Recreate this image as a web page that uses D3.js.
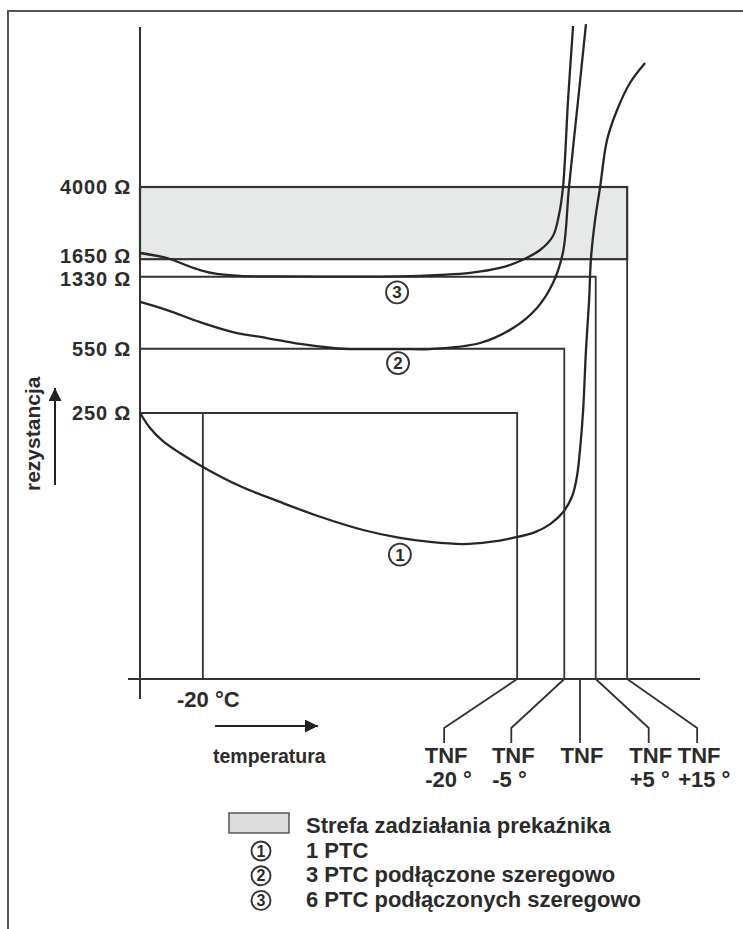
<!DOCTYPE html>
<meta charset="utf-8">
<head>
<style>
  body { margin: 0; background: #fff; }
  text { font-family: "Liberation Sans", Arial, sans-serif; font-weight: bold; fill: #2b2b2b; }
</style>
</head>
<body>
<script src="https://d3js.org/d3.v7.min.js"></script>
<div id="chart"></div>
<script>
    // values: [temperature in °C, resistance in Ω], TNF taken as 100 °C
    var tnf = 100;
    var curve1 = [[-40,250],[-36.8,208],[-32.7,177],[-27.3,153],[-20,129],[-8.2,102],[4.5,84],[17.3,70],
                  [31,59.5],[42.7,54],[52.3,51.4],[62.8,50.1],[71.4,51.4],[78.7,54],[85.7,58],[90.5,64],
                  [94.6,74],[97.5,90],[99,114],[100,159],[101,259],[101.9,541],[102.9,1000],[103.5,1674],
                  [104.8,2669],[106.4,4000],[108.6,7120],[111.8,10290],[115.9,14330],[120.7,18310]];
    var curve2 = [[-40,976],[-31.4,884],[-20.9,763],[-10.4,675],[0.4,627],[10.9,583],[21.4,555],[26.8,548],
                  [42.7,548],[52.3,548],[68.2,590],[78.7,709],[86.3,907],[91.4,1232],[94.6,1802],
                  [96.5,4000],[99.4,11630],[101.9,29540]];
    var curve3 = [[-40,1780],[-31.4,1674],[-26.3,1555],[-20.9,1444],[-15.5,1376],[-8.2,1343],[4.5,1335],
                  [42.7,1335],[55.5,1359],[65,1393],[74.5,1481],[80.9,1614],[87.3,1847],[91.4,2193],
                  [93.3,2837],[94.6,4000],[96.2,11630],[97.8,28830]];
    var curveNames = ["1", "2", "3"];
    var curveMarks = [[42.7,44],[42.1,461],[41.8,1098]];   // where the circled numbers sit

    var ohmTicks = ["250", "550", "1330", "1650", "4000"];
    var zone = [1650, 4000];                 // Strefa zadziałania
    var guideOhms = [250, 550, 1330];
    var guideTemps = [tnf - 20, tnf - 5, tnf + 5];
    var minusTwenty = -20;
    var tnfOffsets = [-20, -5, 0, 5, 15];
    var tnfLabels = ["-20 °", "-5 °", "", "+5 °", "+15 °"];
    var legendLabels = ["Strefa zadziałania prekaźnika", "1 PTC", "3 PTC podłączone szeregowo", "6 PTC podłączonych szeregowo"];

    var width = 743, height = 929;
    var axisY = 679;

    var svg = d3.select("#chart")
      .append("svg")
        .attr("width", width)
        .attr("height", height);

    var x = d3.scaleLinear()
        .domain([-40, tnf])
        .range([140, 580]);

    // resistance axis is logarithmic in the original
    var y = d3.scaleLog()
        .domain([250, 4000])
        .range([413, 187]);

    var ink = "#333";

    // outer frame (left + top only)
    svg.append("path")
      .attr("d", "M8,929V11H743")
      .attr("fill", "none")
      .attr("stroke", "#555")
      .attr("stroke-width", 2);

    // arrow head marker
    svg.append("defs").append("marker")
        .attr("id", "arrow")
        .attr("viewBox", "0 0 10 10")
        .attr("refX", 10).attr("refY", 5)
        .attr("markerWidth", 16).attr("markerHeight", 13)
        .attr("markerUnits", "userSpaceOnUse")
        .attr("orient", "auto")
      .append("path")
        .attr("d", "M0,0L10,5L0,10Z")
        .attr("fill", "#222");

    // shaded zone
    svg.append("rect")
      .attr("x", x(-40))
      .attr("y", y(zone[1]))
      .attr("width", x(tnf + 15) - x(-40))
      .attr("height", y(zone[0]) - y(zone[1]))
      .attr("fill", "#e7e9e9")
      .attr("stroke", ink)
      .attr("stroke-width", 2.2);

    // zone right edge down to the temperature axis
    svg.append("line")
      .attr("x1", x(tnf + 15)).attr("x2", x(tnf + 15))
      .attr("y1", y(zone[0])).attr("y2", axisY)
      .attr("stroke", ink).attr("stroke-width", 1.8);

    // guide lines: resistance level -> temperature
    var guides = svg.append("g")
    guideOhms.forEach(function(r, i) {
      guides.append("path")
        .attr("d", "M" + x(-40) + "," + y(r) + "H" + x(guideTemps[i]) + "V" + axisY)
        .attr("fill", "none")
        .attr("stroke", ink)
        .attr("stroke-width", 1.8);
    });
    guides.append("line")
      .attr("x1", x(minusTwenty)).attr("x2", x(minusTwenty))
      .attr("y1", y(250)).attr("y2", axisY)
      .attr("stroke", ink).attr("stroke-width", 1.8);

    // axes
    svg.append("line")
      .attr("x1", x(-40)).attr("x2", x(-40))
      .attr("y1", 27).attr("y2", axisY + 20)
      .attr("stroke", ink).attr("stroke-width", 2);
    svg.append("line")
      .attr("x1", x(-40) - 12).attr("x2", 700)
      .attr("y1", axisY).attr("y2", axisY)
      .attr("stroke", ink).attr("stroke-width", 2);

    // resistance labels
    var nudge = [0, 0, 2, -3, 0];
    svg.selectAll(".ohm")
      .data(ohmTicks)
      .enter().append("text")
        .attr("class", "ohm")
        .attr("x", 131)
        .attr("y", function(d, i) { return y(+d) + nudge[i]; })
        .attr("dy", "0.36em")
        .attr("text-anchor", "end")
        .attr("font-size", "20px")
        .attr("letter-spacing", "0.8px")
        .text(function(d) { return d + " Ω"; });

    // curves
    var line = d3.line()
        .x(function(d) { return x(d[0]); })
        .y(function(d) { return y(d[1]); })
        .curve(d3.curveCatmullRom.alpha(0.5));

    svg.selectAll(".curve")
      .data([curve1, curve2, curve3])
      .enter().append("path")
        .attr("class", "curve")
        .attr("d", line)
        .attr("fill", "none")
        .attr("stroke", "#262626")
        .attr("stroke-width", 2.3);

    function circled(g, cx, cy, r, label, size) {
      g.append("circle")
        .attr("cx", cx).attr("cy", cy).attr("r", r)
        .attr("fill", "#fff")
        .attr("stroke", "#333")
        .attr("stroke-width", 1.9);
      g.append("text")
        .attr("x", cx).attr("y", cy)
        .attr("dy", "0.36em")
        .attr("text-anchor", "middle")
        .attr("font-size", size)
        .text(label);
    }

    curveMarks.forEach(function(m, i) {
      circled(svg, x(m[0]), y(m[1]), 11, curveNames[i], "17px");
    });

    // "-20 °C" and temperatura arrow
    svg.append("text")
      .attr("x", 177).attr("y", 707)
      .attr("font-size", "22px")
      .text("-20 °C");
    svg.append("line")
      .attr("x1", 215).attr("x2", 318)
      .attr("y1", 726).attr("y2", 726)
      .attr("stroke", "#222").attr("stroke-width", 2)
      .attr("marker-end", "url(#arrow)");
    svg.append("text")
      .attr("x", 213).attr("y", 763)
      .attr("font-size", "19.5px")
      .text("temperatura");

    // rezystancja with up arrow
    svg.append("text")
      .attr("transform", "translate(40,491) rotate(-90)")
      .attr("font-size", "21px")
      .text("rezystancja");
    svg.append("line")
      .attr("x1", 55).attr("x2", 55)
      .attr("y1", 485).attr("y2", 388)
      .attr("stroke", "#222").attr("stroke-width", 2)
      .attr("marker-end", "url(#arrow)");

    // TNF leaders
    var bend = [-73, -53, 0, 53, 70];
    var tnfG = svg.append("g");
    tnfOffsets.forEach(function(o, i) {
      var tx = x(tnf + o), bx = tx + bend[i];
      tnfG.append("path")
        .attr("d", "M" + tx + "," + axisY + "L" + bx + "," + (o === 0 ? 743 : 728) + "V743")
        .attr("fill", "none")
        .attr("stroke", ink)
        .attr("stroke-width", 1.8);
      tnfG.append("text")
        .attr("x", bx + 2).attr("y", 763)
        .attr("text-anchor", "middle")
        .attr("font-size", "22px")
        .text("TNF");
      tnfG.append("text")
        .attr("x", bx - 19).attr("y", 787)
        .attr("font-size", "22px")
        .text(tnfLabels[i]);
    });

    // legend
    var legend = svg.append("g");
    legend.append("rect")
      .attr("x", 229).attr("y", 813)
      .attr("width", 60).attr("height", 20)
      .attr("fill", "#dcdcdc")
      .attr("stroke", "#555")
      .attr("stroke-width", 1.5);
    legend.selectAll(".lg")
      .data(legendLabels)
      .enter().append("text")
        .attr("class", "lg")
        .attr("x", 306)
        .attr("y", function(d, i) { return 833 + i * 24.7; })
        .attr("font-size", "22px")
        .text(function(d) { return d; });
    curveNames.forEach(function(n, i) {
      circled(legend, 261, 851 + i * 24.7, 9.5, n, "16px");
    });
</script>
</body>
